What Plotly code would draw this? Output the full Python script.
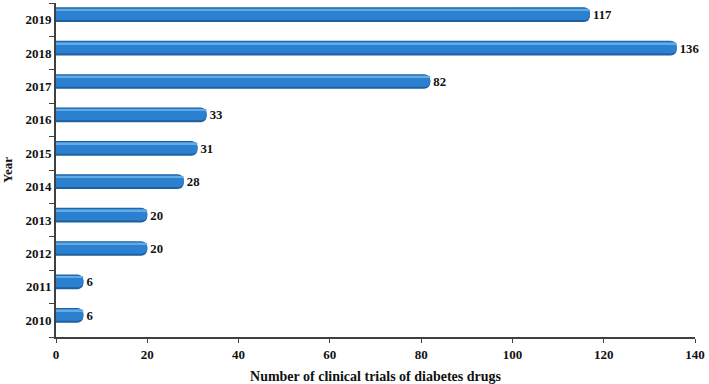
import plotly.graph_objects as go

years = ["2010", "2011", "2012", "2013", "2014", "2015", "2016", "2017", "2018", "2019"]
trials = [6, 6, 20, 20, 28, 31, 33, 82, 136, 117]
x_ticks = [0, 20, 40, 60, 80, 100, 120, 140]

font_family = "Liberation Serif"

fig = go.Figure()
# dark base (shadow edge of cylinder)
fig.add_trace(go.Bar(
    y=years, x=trials, orientation="h", width=0.44, offset=-0.07,
    marker=dict(color="#1d5f9f", line=dict(width=0), cornerradius=6),
    text=[str(v) for v in trials], textposition="outside",
    textfont=dict(family=font_family, size=13, color="#111111", weight="bold"),
    cliponaxis=False, hoverinfo="skip", showlegend=False,
))
# main body
fig.add_trace(go.Bar(
    y=years, x=trials, orientation="h", width=0.35, offset=-0.01,
    marker=dict(color="#2b80cf", line=dict(width=0), cornerradius=5),
    hoverinfo="skip", showlegend=False,
))
# highlight
fig.add_trace(go.Bar(
    y=years, x=trials, orientation="h", width=0.05, offset=0.27,
    marker=dict(color="#62abe6", line=dict(width=0), cornerradius=2),
    hoverinfo="skip", showlegend=False,
))

fig.update_layout(
    width=709, height=384,
    margin=dict(l=56, r=14, t=3, b=47),
    barmode="overlay",
    plot_bgcolor="white", paper_bgcolor="white",
    font=dict(family=font_family, size=13, color="#111111"),
)
fig.update_xaxes(
    range=[0, 140], tickvals=x_ticks, ticktext=[str(t) for t in x_ticks],
    automargin=False,
    showgrid=False, zeroline=False,
    showline=True, linecolor="#404040", linewidth=2,
    ticks="outside", ticklen=4, tickcolor="#404040", tickwidth=1,
    tickfont=dict(family=font_family, size=13, color="#111111", weight="bold"),
    title=dict(text="Number of clinical trials of diabetes drugs", standoff=11,
               font=dict(family=font_family, size=14, weight="bold")),
)
fig.update_yaxes(
    categoryorder="array", categoryarray=years,
    automargin=False,
    showgrid=False, zeroline=False,
    showline=True, linecolor="#404040", linewidth=2,
    ticks="outside", tickson="boundaries", ticklen=5, tickcolor="#404040", tickwidth=1,
    tickfont=dict(family=font_family, size=13, color="#111111", weight="bold"),
    title=dict(text="Year", standoff=14, font=dict(family=font_family, size=13, weight="bold")),
)

fig.write_html(
    "out.html",
    config={"displayModeBar": False},
    post_script="document.body.style.margin='0';document.body.style.overflow='hidden';",
)
